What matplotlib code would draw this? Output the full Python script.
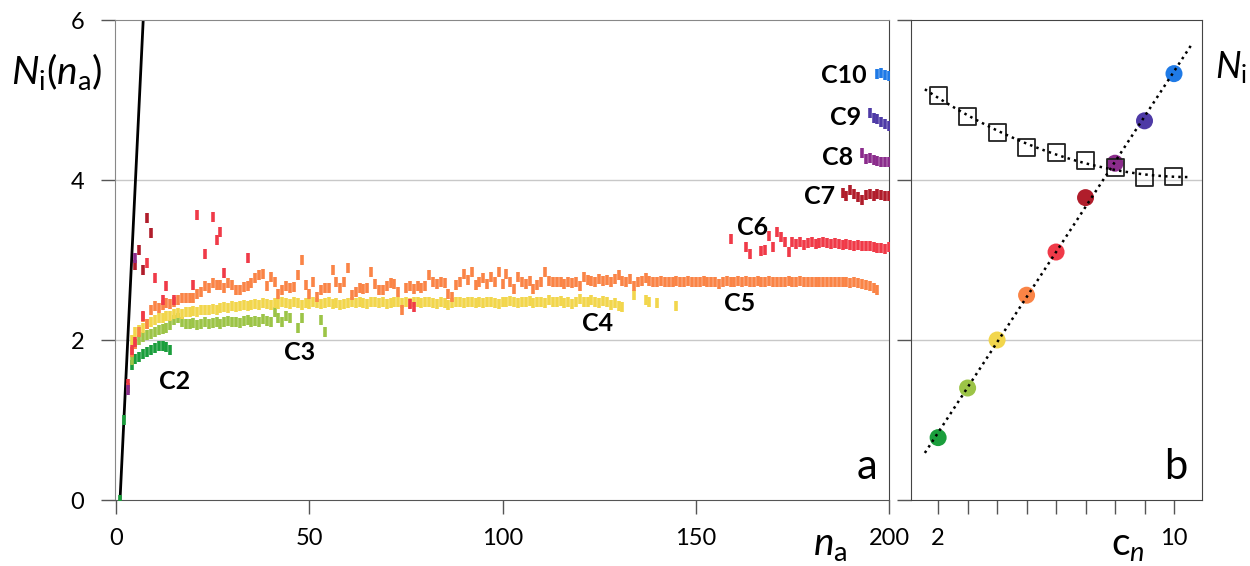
#!/usr/bin/env python3
# -*- coding: utf-8 -*-

"""
Average coordination number N_i of growing chains C2..C10 vs. number of atoms n_a
(panel a) and the saturated values vs. chain size c_n (panel b).
"""

import numpy as np
import matplotlib
matplotlib.use("Agg")
import matplotlib.pyplot as plt

plt.rcParams["font.family"] = ["Lato", "DejaVu Sans"]
plt.rcParams["mathtext.fontset"] = "custom"
plt.rcParams["mathtext.it"] = "Lato:italic"
plt.rcParams["mathtext.rm"] = "Lato"

# ----------------------------------------------------------------------
# Panel a data: N_i per n_a (None = no point)
c2_start = 1
c2_vals = [0.00, 1.00, 1.40, 1.69, 1.76, 1.79, 1.82, 1.85, 1.88, 1.90,
           1.92, 1.93, 1.91, 1.87]

c3_start = 3
c3_vals = [1.40, 1.75, 1.95, 2.00, 2.04, 2.06, 2.08, 2.10, 2.12, 2.14,
           2.15, 2.19, 2.25, 2.27, 2.22, 2.20, 2.20, 2.21, 2.19, 2.20,
           2.22, 2.20, 2.21, 2.23, 2.20, 2.22, 2.24, 2.22, 2.23, 2.21,
           2.24, 2.25, 2.23, 2.24, 2.22, 2.26, 2.24, 2.22, 2.35, 2.27,
           2.22, 2.30, 2.27, None, 2.15, 2.27, None, None, None, None,
           2.25, 2.10]

c4_start = 4
c4_vals = [2.00, 2.10, 2.12, 2.15, 2.20, 2.22, 2.25, 2.27, 2.28, 2.30,
           2.30, 2.32, 2.34, 2.33, 2.35, 2.35, 2.36, 2.35, 2.37, 2.38,
           2.37, 2.39, 2.38, 2.40, 2.41, 2.40, 2.42, 2.41, 2.43, 2.44,
           2.42, 2.44, 2.45, 2.44, 2.46, 2.45, 2.44, 2.46, 2.45, 2.47,
           2.46, 2.45, 2.47, 2.46, 2.44, 2.46, 2.45, 2.47, 2.46, 2.45,
           2.46, 2.47, 2.45, 2.46, 2.44, 2.45, 2.46, 2.47, 2.46, 2.48,
           2.46, 2.45, 2.47, 2.48, 2.46, 2.47, 2.45, 2.46, 2.48, 2.47,
           2.46, 2.47, 2.46, 2.48, 2.47, 2.46, 2.48, 2.47, 2.46, 2.45,
           2.47, 2.46, 2.44, 2.46, 2.48, 2.47, 2.46, 2.47, 2.48, 2.46,
           2.47, 2.46, 2.48, 2.47, 2.46, 2.45, 2.47, 2.48, 2.49, 2.47,
           2.46, 2.48, 2.47, 2.49, 2.46, 2.48, 2.47, 2.46, 2.50, 2.48,
           2.47, 2.49, 2.46, 2.48, 2.45, 2.47, 2.51, 2.48, 2.47, 2.50,
           2.48, 2.46, 2.49, 2.47, 2.44, 2.46, 2.43, 2.41, None, None,
           2.56, None, None, 2.50, 2.48, None, 2.46, None, None, None,
           None, 2.43]

c5_start = 4
c5_vals = [1.85, 1.95, 2.10, 2.29, 2.20, 2.38, 2.42, 2.40, 2.44, 2.46,
           2.45, 2.48, 2.50, 2.52, 2.52, 2.53, 2.52, 2.58, 2.60, 2.67,
           2.65, 2.71, 2.69, 2.69, 2.65, 2.71, 2.69, 2.63, 2.63, 2.66,
           2.67, 2.71, 2.77, 2.81, 2.83, 2.67, 2.79, 2.73, 2.58, 2.63,
           2.67, 2.65, 2.66, 2.81, 3.00, 2.69, 2.58, 2.72, 2.54, 2.63,
           2.65, 2.65, 2.88, 2.73, 2.65, 2.73, 2.90, 2.56, 2.60, 2.65,
           2.64, 2.65, 2.85, 2.70, 2.63, 2.62, 2.68, 2.71, 2.70, 2.60,
           2.38, 2.65, 2.67, 2.64, 2.67, 2.65, 2.67, 2.81, 2.72, 2.70,
           2.73, 2.71, 2.58, 2.54, 2.69, 2.72, 2.83, 2.75, 2.85, 2.69,
           2.72, 2.77, 2.70, 2.79, 2.72, 2.85, 2.70, 2.83, 2.73, 2.64,
           2.79, 2.72, 2.70, 2.74, 2.64, 2.69, 2.73, 2.85, 2.74, 2.72,
           2.73, 2.72, 2.70, 2.73, 2.71, 2.72, 2.67, 2.79, 2.75, 2.74,
           2.73, 2.76, 2.74, 2.75, 2.73, 2.76, 2.81, 2.74, 2.73, 2.76,
           2.67, 2.72, 2.74, 2.77, 2.74, 2.73, 2.72, 2.74, 2.73, 2.72,
           2.73, 2.74, 2.72, 2.73, 2.74, 2.73, 2.72, 2.73, 2.74, 2.73,
           2.72, 2.73, 2.70, 2.73, 2.74, 2.73, 2.72, 2.74, 2.73, 2.74,
           2.73, 2.72, 2.74, 2.73, 2.73, 2.74, 2.73, 2.72, 2.73, 2.73,
           2.74, 2.73, 2.73, 2.74, 2.73, 2.73, 2.72, 2.73, 2.73, 2.72,
           2.73, 2.72, 2.72, 2.73, 2.72, 2.72, 2.71, 2.72, 2.71, 2.70,
           2.69, 2.67, 2.65, 2.62]

c6_n = [3, 4, 5, 7, 8, 10, 12, 13, 15, 20, 21, 23, 25, 26, 27, 28, 34,
        76, 77, 159, 163, 164, 167, 168, 169, 170, 171, 172, 173, 174, 175,
        176, 177, 178, 179, 180, 181, 182, 183, 184, 185, 186, 187, 188,
        189, 190, 191, 192, 193, 194, 195, 196, 197, 198, 199, 200]
c6_vals = [1.45, 1.88, 1.97, 2.30, 2.96, 2.77, 2.50, 2.67, 2.50, 2.69,
           3.56, 3.08, 3.54, 3.25, 3.35, 2.84, 3.02,
           2.45, 2.41, 3.26, 3.16, 3.08, 3.11, 3.12, 3.30, 3.16, 3.35,
           3.29, 3.23, 3.10, 3.23,
           3.20, 3.22, 3.19, 3.21, 3.22, 3.20, 3.21, 3.22, 3.21, 3.20,
           3.21, 3.20, 3.19, 3.20, 3.19, 3.18, 3.19, 3.18, 3.17, 3.17,
           3.16, 3.15, 3.15, 3.14, 3.16]

c7_n = [5, 6, 7, 8, 9, 188, 189, 190, 191, 192, 193, 194, 195, 196, 197,
        198, 199, 200]
c7_vals = [2.94, 3.12, 2.88, 3.52, 3.34, 3.84, 3.80, 3.87, 3.82, 3.79,
           3.75, 3.81, 3.83, 3.80, 3.82, 3.81, 3.80, 3.80]

c8_n = [3, 5, 193, 194, 195, 196, 197, 198, 199, 200]
c8_vals = [1.37, 3.02, 4.34, 4.26, 4.28, 4.25, 4.24, 4.23, 4.22, 4.22]

c9_n = [195, 196, 197, 198, 199, 200]
c9_vals = [4.84, 4.77, 4.76, 4.72, 4.70, 4.68]

c10_n = [197, 198, 199, 200]
c10_vals = [5.33, 5.34, 5.31, 5.30]

# reference line N_i = n_a - 1 (end points)
line_n = [1, 8]
line_N = [0, 7]

# ----------------------------------------------------------------------
# Panel b data
chain_size = [2, 3, 4, 5, 6, 7, 8, 9, 10]
n_final = [0.78, 1.40, 2.00, 2.56, 3.10, 3.78, 4.21, 4.74, 5.33]
n_other = [5.06, 4.79, 4.60, 4.41, 4.34, 4.25, 4.16, 4.03, 4.04]

chain_names = ["C2", "C3", "C4", "C5", "C6", "C7", "C8", "C9", "C10"]
chain_colors = ["#1a9e3c", "#9cc447", "#f2d64c", "#fa8446", "#f03a48",
                "#b01d2b", "#8b2c8c", "#4e3aa6", "#1f7ae6"]


def seq(start, vals):
    y = np.array([np.nan if v is None else v for v in vals], dtype=float)
    return np.arange(start, start + len(y)), y


def main():
    fig = plt.figure(figsize=(12.5, 5.66), dpi=100)
    ax = fig.add_axes([0.092, 0.1166, 0.6192, 0.848])
    bx = fig.add_axes([0.7288, 0.1166, 0.2328, 0.848])

    series = [
        seq(c2_start, c2_vals),
        seq(c3_start, c3_vals),
        seq(c4_start, c4_vals),
        seq(c5_start, c5_vals),
        (np.array(c6_n), np.array(c6_vals)),
        (np.array(c7_n), np.array(c7_vals)),
        (np.array(c8_n), np.array(c8_vals)),
        (np.array(c9_n), np.array(c9_vals)),
        (np.array(c10_n), np.array(c10_vals)),
    ]

    # ----- panel a -----------------------------------------------------
    for yv in (2, 4):
        ax.axhline(yv, color="#c8c8c8", lw=1, zorder=0)
    ax.plot(line_n, line_N, color="black", lw=2.0, zorder=2)
    for (x, y), col in zip(series, chain_colors):
        ax.plot(x, y, ls="none", marker="|", ms=7.0, mew=2.6,
                color=col, zorder=3)

    label_pos = [(15.2, 1.48), (47.5, 1.84), (124.5, 2.21), (161.3, 2.46),
                 (164.6, 3.41), (182.0, 3.79), (186.8, 4.28), (188.8, 4.78),
                 (188.3, 5.31)]
    for name, (lx, ly) in zip(chain_names, label_pos):
        ax.text(lx, ly, name, fontsize=18, fontweight="bold",
                ha="center", va="center", zorder=4)

    ax.set_xlim(-0.3, 200)
    ax.set_ylim(0, 6)
    ax.set_xticks([0, 50, 100, 150, 200])
    ax.set_yticks([0, 2, 4, 6])
    ax.tick_params(direction="out", length=10, width=1, labelsize=17,
                   color="#555555")
    ax.tick_params(axis="y", pad=12)
    ax.tick_params(axis="x", pad=10)
    ax.spines["left"].set_color("#888888")
    ax.spines["bottom"].set_color("#555555")
    ax.spines["top"].set_color("#888888")
    ax.spines["right"].set_color("#444444")
    ax.text(0.985, 0.03, "a", transform=ax.transAxes, fontsize=30,
            ha="right", va="bottom")

    # ----- panel b -----------------------------------------------------
    for yv in (2, 4):
        bx.axhline(yv, color="#c8c8c8", lw=1, zorder=0)
    bx.scatter(chain_size, n_final, s=150, c=chain_colors,
               edgecolors="none", zorder=3)
    bx.scatter(chain_size, n_other, s=150, marker="s", facecolors="none",
               edgecolors="#222222", linewidths=1.3, zorder=3)

    fit1 = np.polyfit(chain_size, n_final, 1)
    xs1 = np.linspace(1.55, 10.6, 50)
    bx.plot(xs1, np.polyval(fit1, xs1), color="black", ls=":", lw=1.8,
            zorder=4)
    fit2 = np.polyfit(chain_size, n_other, 2)
    xs2 = np.linspace(1.55, 10.5, 80)
    bx.plot(xs2, np.polyval(fit2, xs2), color="black", ls=":", lw=1.8,
            zorder=4)

    bx.set_xlim(1.08, 10.95)
    bx.set_ylim(0, 6)
    bx.set_xticks(chain_size)
    bx.set_xticklabels(["2", "", "", "", "", "", "", "", "10"])
    bx.set_yticks([0, 2, 4, 6])
    bx.set_yticklabels([])
    bx.tick_params(direction="out", length=10, width=1, labelsize=17,
                   color="#555555")
    bx.tick_params(axis="x", pad=10)
    for sp in bx.spines.values():
        sp.set_color("#444444")
    bx.text(0.95, 0.03, "b", transform=bx.transAxes, fontsize=30,
            ha="right", va="bottom")

    # ----- axis titles -------------------------------------------------
    fig.text(57 / 1250, 1 - 72 / 566, r"$N_{\mathrm{i}}(n_{\mathrm{a}})$",
             fontsize=28, ha="center", va="center")
    fig.text(830 / 1250, 1 - 545 / 566, r"$n_{\mathrm{a}}$",
             fontsize=28, ha="center", va="center")
    fig.text(1128 / 1250, 1 - 545 / 566, r"$\mathrm{c}_{n}$",
             fontsize=28, ha="center", va="center")
    fig.text(1231 / 1250, 1 - 68 / 566, r"$N_{\mathrm{i}}$",
             fontsize=26, ha="center", va="center")

    fig.savefig("out.png", dpi=100)


if __name__ == "__main__":
    main()
